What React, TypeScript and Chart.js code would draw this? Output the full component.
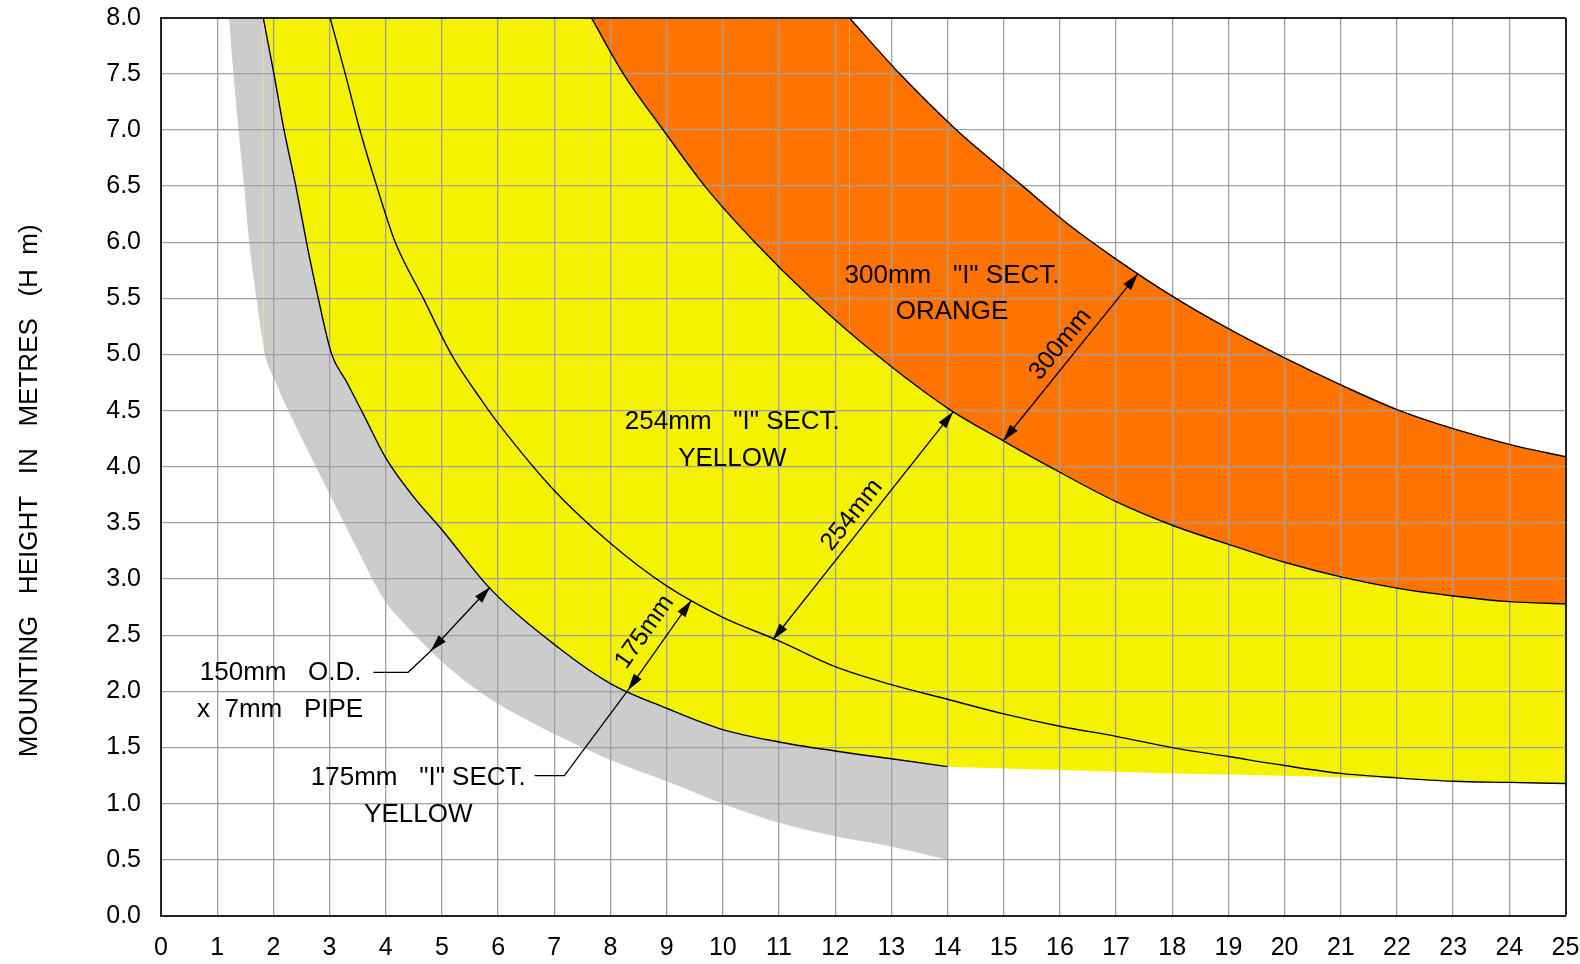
import { useEffect, useRef } from 'react';
import { Chart, registerables } from 'chart.js';

Chart.register(...registerables);

const FONT = "'Liberation Sans', Arial, Helvetica, sans-serif";

// ---------- axes ----------
const X_MIN = 0;
const X_MAX = 25;
const Y_MIN = 0;
const Y_MAX = 8;
const X_TICKS = [0, 1, 2, 3, 4, 5, 6, 7, 8, 9, 10, 11, 12, 13, 14, 15, 16, 17, 18, 19, 20, 21, 22, 23, 24, 25];
const X_TICK_LABELS = ['0', '1', '2', '3', '4', '5', '6', '7', '8', '9', '10', '11', '12', '13', '14', '15', '16', '17', '18', '19', '20', '21', '22', '23', '24', '25'];
const Y_TICKS = [0, 0.5, 1, 1.5, 2, 2.5, 3, 3.5, 4, 4.5, 5, 5.5, 6, 6.5, 7, 7.5, 8];
const Y_TICK_LABELS = ['0.0', '0.5', '1.0', '1.5', '2.0', '2.5', '3.0', '3.5', '4.0', '4.5', '5.0', '5.5', '6.0', '6.5', '7.0', '7.5', '8.0'];
const Y_TITLE = 'MOUNTING   HEIGHT   IN   METRES   (H  m)';

// ---------- curves (spacing x, mounting height y) ----------
// 150mm O.D. x 7mm pipe: outer edge of the grey band
const pipeEdgeX = [1.21, 1.29, 1.38, 1.48, 1.57, 1.70, 1.85, 2.0, 2.2, 2.58, 3.0, 3.47, 3.98, 4.3, 4.7, 5.1, 5.5, 6.0, 6.5, 7.0, 8.0, 9.0, 10.0, 11.0, 12.0, 13.0, 14.0];
const pipeEdgeY = [8.0, 7.5, 7.0, 6.5, 6.0, 5.5, 5.0, 4.8, 4.57, 4.18, 3.76, 3.29, 2.81, 2.62, 2.41, 2.22, 2.06, 1.89, 1.75, 1.62, 1.39, 1.20, 1.0, 0.83, 0.71, 0.62, 0.50];

// 175mm "I" section curve
const sect175X = [1.82, 2.01, 2.19, 2.40, 2.59, 2.80, 3.04, 3.3, 3.6, 4.0, 4.5, 5.0, 5.85, 7.1, 8.0, 9.0, 10.0, 11.0, 12.0, 13.0, 14.0];
const sect175Y = [8.0, 7.5, 7.0, 6.5, 6.0, 5.5, 5.0, 4.76, 4.47, 4.08, 3.73, 3.44, 2.92, 2.38, 2.07, 1.85, 1.66, 1.55, 1.47, 1.40, 1.33];

// 254mm "I" section lower curve (middle black line)
const sect254LowX = [3.01, 3.28, 3.54, 3.84, 4.17, 4.67, 5.17, 5.71, 6.0, 7.0, 8.0, 9.0, 10.0, 11.0, 12.0, 13.0, 14.0, 15.0, 16.0, 17.0, 18.0, 19.0, 20.0, 21.0, 22.0, 23.0, 24.0, 25.0];
const sect254LowY = [8.0, 7.5, 7.0, 6.5, 6.0, 5.5, 5.0, 4.59, 4.39, 3.79, 3.32, 2.94, 2.66, 2.45, 2.22, 2.06, 1.93, 1.80, 1.69, 1.60, 1.50, 1.42, 1.34, 1.27, 1.23, 1.20, 1.19, 1.18];

// 254mm upper limit = 300mm lower limit
const sect254UpX = [7.66, 8.23, 8.94, 9.68, 10.57, 11.58, 12.73, 14.04, 15.0, 15.75, 17.0, 18.0, 19.0, 20.0, 21.0, 22.0, 23.0, 24.0, 25.0];
const sect254UpY = [8.0, 7.5, 7.0, 6.5, 6.0, 5.5, 5.0, 4.51, 4.23, 4.02, 3.69, 3.48, 3.31, 3.15, 3.02, 2.92, 2.85, 2.80, 2.78];

// 300mm upper limit
const sect300UpX = [12.25, 13.15, 14.16, 15.34, 16.2, 17.0, 18.0, 19.0, 20.0, 21.0, 22.0, 23.0, 24.0, 25.0];
const sect300UpY = [8.0, 7.5, 7.0, 6.5, 6.14, 5.85, 5.52, 5.23, 4.97, 4.73, 4.51, 4.34, 4.20, 4.09];

// lower edge of the yellow area beyond the pipe band
const yellowBottomX = [14.0, 16.0, 18.0, 20.0, 21.0, 22.0, 23.0, 24.0, 25.0];
const yellowBottomY = [1.33, 1.30, 1.27, 1.25, 1.235, 1.225, 1.20, 1.19, 1.18];

// ---------- annotations ----------
const BAND_TEXT = ['300mm   "I" SECT.', 'ORANGE', '254mm   "I" SECT.', 'YELLOW', '175mm   "I" SECT.', 'YELLOW', '150mm   O.D.', 'x  7mm   PIPE'];
const BAND_TEXT_X = [14.08, 14.08, 10.17, 10.17, 4.58, 4.58, 2.13, 2.12];
const BAND_TEXT_Y = [5.70, 5.38, 4.40, 4.07, 1.23, 0.90, 2.17, 1.84];

const DIM_LABELS = ['300mm', '254mm', '175mm', ''];
const DIM_FROM_X = [14.99, 10.89, 8.31, 4.80];
const DIM_FROM_Y = [4.23, 2.46, 2.01, 2.36];
const DIM_TO_X = [17.39, 14.10, 9.44, 5.86];
const DIM_TO_Y = [5.72, 4.49, 2.81, 2.93];
const DIM_LABEL_X = [16.01, 12.30, 8.61, 0];
const DIM_LABEL_Y = [5.09, 3.57, 2.53, 0];

const LEADER_150_X = [3.78, 4.40, 4.80];
const LEADER_150_Y = [2.17, 2.17, 2.36];
const LEADER_175_X = [6.65, 7.18, 8.31];
const LEADER_175_Y = [1.25, 1.25, 2.01];

// ---------- styles ----------
const ORANGE = '#FF7300';
const YELLOW = '#F5F200';
const GREY = '#CCCCCC';
const WHITE = '#FFFFFF';
const GRID = '#A0A0A0';
const FRAME = '#222222';

const pts = (xs: number[], ys: number[]) => xs.map((v, i) => ({ x: v, y: ys[i] }));
const cap = (x0: number, x1: number) => [{ x: x0, y: Y_MAX }, { x: x1, y: Y_MAX }];

const annotationPlugin = {
  id: 'annotations',
  afterDatasetsDraw(chart: any) {
    const { ctx } = chart;
    const xs = chart.scales.x;
    const ys = chart.scales.y;
    const px = (v: number) => xs.getPixelForValue(v);
    const py = (v: number) => ys.getPixelForValue(v);
    ctx.save();
    ctx.fillStyle = '#000';
    ctx.strokeStyle = '#000';
    ctx.font = `26px ${FONT}`;
    ctx.textAlign = 'center';
    ctx.textBaseline = 'middle';
    BAND_TEXT.forEach((t, i) => ctx.fillText(t, px(BAND_TEXT_X[i]), py(BAND_TEXT_Y[i])));

    ctx.lineWidth = 1.3;
    const leaders = [
      [LEADER_150_X, LEADER_150_Y],
      [LEADER_175_X, LEADER_175_Y],
    ];
    leaders.forEach(([lx, ly]) => {
      ctx.beginPath();
      lx.forEach((v, i) => {
        if (i === 0) ctx.moveTo(px(v), py(ly[i]));
        else ctx.lineTo(px(v), py(ly[i]));
      });
      ctx.stroke();
    });

    const head = (tx: number, ty: number, ux: number, uy: number) => {
      const L = 17;
      const W = 4.8;
      const bx = tx - ux * L;
      const by = ty - uy * L;
      ctx.beginPath();
      ctx.moveTo(tx, ty);
      ctx.lineTo(bx - uy * W, by + ux * W);
      ctx.lineTo(bx + uy * W, by - ux * W);
      ctx.closePath();
      ctx.fill();
    };

    DIM_LABELS.forEach((label, i) => {
      const x1 = px(DIM_FROM_X[i]);
      const y1 = py(DIM_FROM_Y[i]);
      const x2 = px(DIM_TO_X[i]);
      const y2 = py(DIM_TO_Y[i]);
      const len = Math.hypot(x2 - x1, y2 - y1);
      const ux = (x2 - x1) / len;
      const uy = (y2 - y1) / len;
      ctx.beginPath();
      ctx.moveTo(x1, y1);
      ctx.lineTo(x2, y2);
      ctx.stroke();
      head(x2, y2, ux, uy);
      head(x1, y1, -ux, -uy);
      if (label) {
        ctx.save();
        ctx.translate(px(DIM_LABEL_X[i]), py(DIM_LABEL_Y[i]));
        ctx.rotate(Math.atan2(y2 - y1, x2 - x1));
        ctx.font = `25px ${FONT}`;
        ctx.fillText(label, 0, 0);
        ctx.restore();
      }
    });
    ctx.restore();
  },
  afterDraw(chart: any) {
    const { ctx, chartArea } = chart;
    ctx.save();
    ctx.translate(30, (chartArea.top + chartArea.bottom) / 2 + 24);
    ctx.rotate(-Math.PI / 2);
    ctx.font = `26px ${FONT}`;
    ctx.fillStyle = '#000';
    ctx.textAlign = 'center';
    ctx.textBaseline = 'middle';
    ctx.fillText(Y_TITLE, 0, 0);
    ctx.restore();
  },
};

export default function App() {
  const canvasRef = useRef<HTMLCanvasElement | null>(null);

  useEffect(() => {
    if (!canvasRef.current) return;
    Chart.defaults.font.family = FONT;
    const base = {
      pointRadius: 0,
      pointHoverRadius: 0,
      cubicInterpolationMode: 'monotone' as const,
      fill: 'origin',
      borderWidth: 0,
      borderColor: 'rgba(0,0,0,0)',
    };
    const line = { borderColor: '#000', borderWidth: 1.4 };
    const chart = new Chart(canvasRef.current, {
      type: 'line',
      data: {
        datasets: [
          { ...base, label: 'orange cap', data: cap(sect254UpX[0], sect300UpX[0]), backgroundColor: ORANGE, order: 10 },
          { ...base, ...line, label: '300mm', data: pts(sect300UpX, sect300UpY), backgroundColor: ORANGE, order: 9 },
          { ...base, label: 'yellow cap', data: cap(sect175X[0], sect254UpX[0]), backgroundColor: YELLOW, order: 8 },
          { ...base, ...line, label: '254mm', data: pts(sect254UpX, sect254UpY), backgroundColor: YELLOW, order: 7 },
          { ...base, label: 'yellow bottom', data: pts(yellowBottomX, yellowBottomY), backgroundColor: WHITE, order: 6 },
          { ...base, label: 'grey cap', data: cap(pipeEdgeX[0], sect175X[0]), backgroundColor: GREY, order: 5 },
          { ...base, ...line, label: '175mm', data: pts(sect175X, sect175Y), backgroundColor: GREY, order: 4 },
          { ...base, label: 'pipe edge', data: pts(pipeEdgeX, pipeEdgeY), backgroundColor: WHITE, order: 3 },
          { ...base, ...line, label: '254mm lower', data: pts(sect254LowX, sect254LowY), fill: false, order: 2 },
        ] as any,
      },
      options: {
        animation: false,
        responsive: false,
        events: [],
        layout: { padding: { left: 0, right: 14.5, top: 17.7, bottom: 0 } },
        plugins: {
          legend: { display: false },
          tooltip: { enabled: false },
          filler: { drawTime: 'beforeDraw', propagate: false },
        },
        scales: {
          x: {
            type: 'linear',
            min: X_MIN,
            max: X_MAX,
            afterBuildTicks: (axis: any) => {
              axis.ticks = X_TICKS.map((v) => ({ value: v }));
            },
            afterFit: (axis: any) => {
              axis.height = 48;
            },
            ticks: {
              autoSkip: false,
              maxRotation: 0,
              padding: 0,
              color: '#000',
              font: { size: 25, family: FONT },
              callback: (v: any) => X_TICK_LABELS[X_TICKS.indexOf(Number(v))] ?? '',
            },
            grid: {
              drawTicks: true,
              tickLength: 17,
              tickColor: 'rgba(0,0,0,0)',
              color: (c: any) => (c.tick && c.tick.value === X_MAX ? FRAME : GRID),
              lineWidth: (c: any) => (c.tick && c.tick.value === X_MAX ? 2 : 1.3),
            },
            border: { color: FRAME, width: 2 },
          },
          y: {
            type: 'linear',
            min: Y_MIN,
            max: Y_MAX,
            afterBuildTicks: (axis: any) => {
              axis.ticks = Y_TICKS.map((v) => ({ value: v }));
            },
            afterFit: (axis: any) => {
              axis.width = 161;
            },
            ticks: {
              autoSkip: false,
              padding: 0,
              color: '#000',
              font: { size: 25, family: FONT },
              callback: (v: any) => Y_TICK_LABELS[Y_TICKS.indexOf(Number(v))] ?? '',
            },
            grid: {
              drawTicks: true,
              tickLength: 20,
              tickColor: 'rgba(0,0,0,0)',
              color: (c: any) => (c.tick && c.tick.value === Y_MAX ? FRAME : GRID),
              lineWidth: (c: any) => (c.tick && c.tick.value === Y_MAX ? 2 : 1.3),
            },
            border: { color: FRAME, width: 2 },
          },
        },
      } as any,
      plugins: [annotationPlugin],
    });
    return () => chart.destroy();
  }, []);

  return (
    <div style={{ position: 'fixed', left: 0, top: 0, width: 1580, height: 964, background: '#fff' }}>
      <canvas ref={canvasRef} width={1580} height={964} style={{ width: 1580, height: 964, display: 'block' }} />
    </div>
  );
}
